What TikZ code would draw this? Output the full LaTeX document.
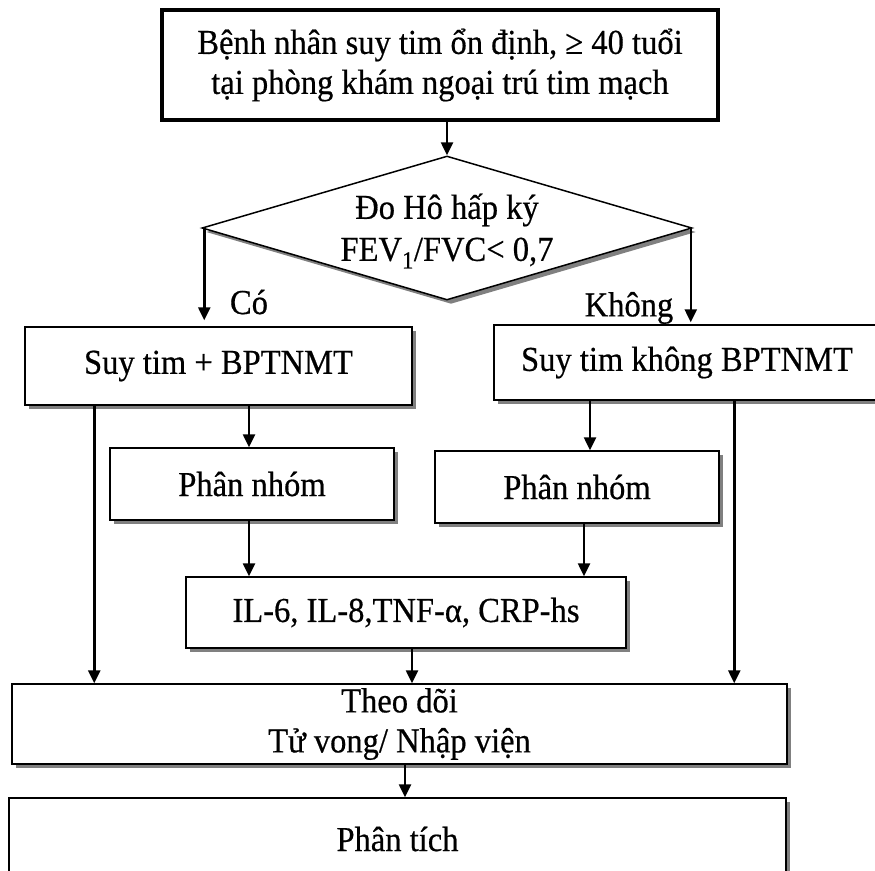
\documentclass[tikz,border=0pt]{standalone}
\usepackage{fontspec}
\setmainfont{Liberation Serif}[FakeStretch=0.93, FakeBold=0.5]
\usetikzlibrary{arrows.meta,shapes.geometric,shadows}
\begin{document}
\begin{tikzpicture}[x=1pt,y=-1pt,
  txt/.style={font=\fontsize{35}{40}\selectfont, align=center},
  shadowed/.style={drop shadow={shadow xshift=4pt, shadow yshift=-4pt, fill=black!50, opacity=1}},
  flowbox/.style={draw, line width=1.5pt, fill=white, shadowed, inner sep=0pt, txt},
  startbox/.style={draw, line width=4.5pt, fill=white, inner sep=0pt, txt},
  decision/.style={draw, diamond, line width=1.5pt, fill=white, shadowed, inner sep=0pt,
    minimum width=490pt, minimum height=144pt},
  arr/.style={line width=2.5pt, -{Triangle[length=13pt,width=12pt]}},
  lbl/.style={txt, inner sep=0pt}
]
\path[fill=white, use as bounding box] (0,0) rectangle (875,870);

% boxes
\node[startbox, minimum width=556pt, minimum height=110pt] (top) at (440,65)
  {Bệnh nhân suy tim ổn định, ≥ 40 tuổi\\tại phòng khám ngoại trú tim mạch};
\node[decision] (dia) at (447,228) {};
\node[lbl] (diatext) at (447,231) {Đo Hô hấp ký\\[2pt]FEV\textsubscript{1}/FVC< 0,7};
\node[flowbox, minimum width=387pt, minimum height=78pt] (A) at (218.5,366) {Suy tim + BPTNMT};
\node[flowbox, minimum width=386pt, minimum height=75pt] (B) at (687,362.5) {Suy tim không BPTNMT};
\node[flowbox, minimum width=284pt, minimum height=72pt] (C) at (252,484) {Phân nhóm};
\node[flowbox, minimum width=284pt, minimum height=72pt] (D) at (577,487) {Phân nhóm};
\node[flowbox, minimum width=440pt, minimum height=71pt] (E) at (406,612.5) {IL-6, IL-8,TNF-α, CRP-hs};
\node[flowbox, minimum width=775pt, minimum height=80pt] (F) at (399.5,724) {Theo dõi\\Tử vong/ Nhập viện};
\node[flowbox, minimum width=777pt, minimum height=82pt] (G) at (397.5,839) {Phân tích};

% branch labels
\node[lbl] (yes) at (249,302) {Có};
\node[lbl] (no) at (629,308) {Không};

% connectors
\draw[arr] (dia.north |- top.south) -- (dia.north);
\draw[arr, shorten >=6pt] ([xshift=3pt]dia.west) -- ([xshift=3pt]dia.west |- A.north);
\draw[arr, shorten >=2pt] ([xshift=-2pt]dia.east) -- ([xshift=-2pt]dia.east |- B.north);
\draw[arr] ([xshift=-3pt]C.north |- A.south) -- ([xshift=-3pt]C.north);
\draw[arr] ([xshift=13pt]D.north |- B.south) -- ([xshift=13pt]D.north);
\draw[arr] ([xshift=-3pt]C.south) -- ([xshift=-3pt]C.south |- E.north);
\draw[arr] ([xshift=7pt]D.south) -- ([xshift=7pt]D.south |- E.north);
\draw[arr] ([xshift=70pt]A.south west) -- ([xshift=70pt]A.south west |- F.north);
\draw[arr] ([xshift=241pt]B.south west) -- ([xshift=241pt]B.south west |- F.north);
\draw[arr] ([xshift=6pt]E.south) -- ([xshift=6pt]E.south |- F.north);
\draw[arr] ([xshift=5.5pt]F.south) -- ([xshift=5.5pt]F.south |- G.north);
\end{tikzpicture}
\end{document}
